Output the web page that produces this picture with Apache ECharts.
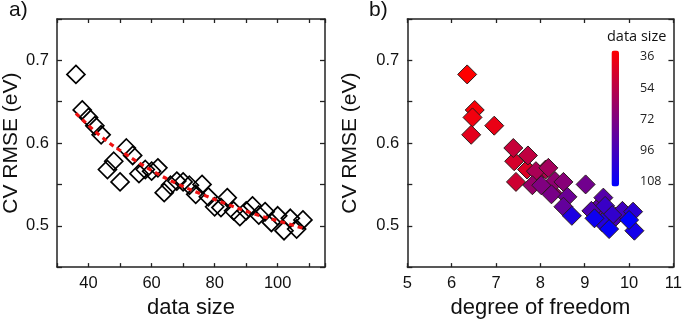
<!DOCTYPE html>
<html><head><meta charset="utf-8">
<script src="https://cdn.jsdelivr.net/npm/echarts@6/dist/echarts.min.js"></script>
<style>html,body{margin:0;padding:0;background:#fff}#c{width:685px;height:324px}</style>
</head><body><div id="c"></div>
<script>
// data size of each model
const dataSize = [36,38,40,42,44,46,48,50,52,54,56,58,60,62,64,66,68,70,72,74,76,78,80,82,84,86,88,90,92,94,96,98,100,102,104,106,108];
// CV RMSE (eV)
const cvRmse = [0.683,0.640,0.631,0.621,0.610,0.568,0.578,0.553,0.594,0.585,0.563,0.568,0.566,0.570,0.540,0.549,0.554,0.553,0.549,0.538,0.550,0.535,0.523,0.522,0.534,0.518,0.511,0.518,0.524,0.513,0.517,0.504,0.512,0.494,0.509,0.496,0.507];
// degree of freedom of each model
const dof = [6.35,6.52,6.47,6.96,6.44,7.70,7.41,7.45,7.39,7.72,7.95,8.12,7.90,8.18,8.27,7.82,8.33,8.52,8.02,8.25,9.02,8.61,8.52,9.30,9.42,9.15,9.70,9.85,9.46,9.62,10.09,9.40,8.71,10.12,9.22,9.55,10.00];
// fitted trend (red dashed)
const fitSize = [36,44,52,60,68,76,84,92,100,108];
const fitRmse = [0.636,0.608,0.586,0.567,0.551,0.538,0.526,0.515,0.506,0.497];
// colour bar tick labels
const sizeTickLabels = ['36','54','72','96','108'];

const FONT = '"Liberation Sans", Arial, sans-serif';
const FONT2 = '"Open Sans", sans-serif';
const AX = '#222';
const yFmt = v => { const r = Math.round(v * 100); return r % 10 === 0 ? (r / 100).toFixed(1) : ''; };

function xAx(grid, min, max, interval, pos, name, fmt) {
  return {
    gridIndex: grid, type: 'value', min, max, interval, position: pos,
    name: name || '', nameLocation: 'middle', nameGap: 28,
    nameTextStyle: { fontSize: 22, color: '#111', fontFamily: FONT },
    axisLine: { onZero: false, lineStyle: { color: AX, width: 1.5 } },
    axisTick: { inside: true, length: 4, lineStyle: { color: AX, width: 1.3 } },
    axisLabel: { show: pos === 'bottom', margin: 8, fontSize: 16.5, color: '#111', fontFamily: FONT, formatter: fmt },
    splitLine: { show: false }
  };
}
function yAx(grid, pos, name, gap) {
  return {
    gridIndex: grid, type: 'value', min: 0.45, max: 0.75, interval: 0.05, position: pos,
    name: name || '', nameLocation: 'middle', nameGap: gap || 30,
    nameTextStyle: { fontSize: 21, color: '#111', fontFamily: FONT },
    axisLine: { onZero: false, lineStyle: { color: AX, width: 1.5 } },
    axisTick: { inside: true, length: 5, lineStyle: { color: AX, width: 1.3 } },
    axisLabel: { show: pos === 'left', margin: 8, fontSize: 16.5, color: '#111', fontFamily: FONT, formatter: yFmt },
    splitLine: { show: false }
  };
}

const chart = echarts.init(document.getElementById('c'), null, { renderer: 'canvas' });
chart.setOption({
  animation: false,
  textStyle: { fontFamily: FONT },
  title: [
    { text: 'a)', left: 9, top: 0, padding: 0, textStyle: { fontSize: 21, fontWeight: 'normal', fontFamily: FONT, color: '#111' } },
    { text: 'b)', left: 369, top: 0, padding: 0, textStyle: { fontSize: 21, fontWeight: 'normal', fontFamily: FONT, color: '#111' } },
    { text: 'data size', left: 607, top: 29, padding: 0, textStyle: { fontSize: 14.5, fontWeight: 'normal', fontFamily: FONT2, color: '#111' } }
  ],
  grid: [
    { left: 55.7, top: 19, width: 269.3, height: 251 },
    { left: 407.3, top: 19, width: 269.4, height: 251 },
    { left: 631, top: 56.7, width: 1, height: 125 }
  ],
  xAxis: [
    xAx(0, 30, 115, 10, 'bottom', 'data size', v => (v % 20 === 0 ? String(v) : '')),
    xAx(0, 30, 115, 10, 'top'),
    xAx(1, 5, 11, 1, 'bottom', 'degree of freedom', v => String(v)),
    xAx(1, 5, 11, 1, 'top'),
    { gridIndex: 2, type: 'value', show: false }
  ],
  yAxis: [
    yAx(0, 'left', 'CV RMSE (eV)', 35),
    yAx(0, 'right'),
    yAx(1, 'left', 'CV RMSE (eV)', 47),
    yAx(1, 'right'),
    { gridIndex: 2, type: 'category', data: sizeTickLabels, inverse: true, boundaryGap: false, position: 'right',
      axisLine: { show: false }, axisTick: { show: false }, splitLine: { show: false },
      axisLabel: { margin: 8, fontSize: 12.5, color: '#222', fontFamily: FONT2 } }
  ],
  visualMap: {
    type: 'continuous', min: 36, max: 108, dimension: 2, seriesIndex: 2,
    inRange: { color: ['#ff0000', '#0000ff'] },
    inverse: true, calculable: false, hoverLink: false, show: true,
    left: 611.5, top: 50.5, itemWidth: 7.5, itemHeight: 136, padding: 0, text: null
  },
  series: [
    { type: 'scatter', xAxisIndex: 0, yAxisIndex: 0, symbol: 'diamond', symbolSize: 18,
      data: dataSize.map((s, i) => [s, cvRmse[i]]),
      itemStyle: { color: 'rgba(0,0,0,0)', borderColor: '#000', borderWidth: 1.7, opacity: 1 }, z: 2 },
    { type: 'line', xAxisIndex: 0, yAxisIndex: 0, smooth: true, showSymbol: false, symbol: 'none',
      data: fitSize.map((s, i) => [s, fitRmse[i]]),
      lineStyle: { color: '#ee1111', width: 3.2, type: [5, 4] }, z: 3 },
    { type: 'scatter', xAxisIndex: 2, yAxisIndex: 2, symbol: 'diamond', symbolSize: 19,
      data: dataSize.map((s, i) => [dof[i], cvRmse[i], s]),
      itemStyle: { borderColor: '#2a1a1a', borderWidth: 1, opacity: 1 }, z: 2 }
  ]
});
</script>
</body></html>
